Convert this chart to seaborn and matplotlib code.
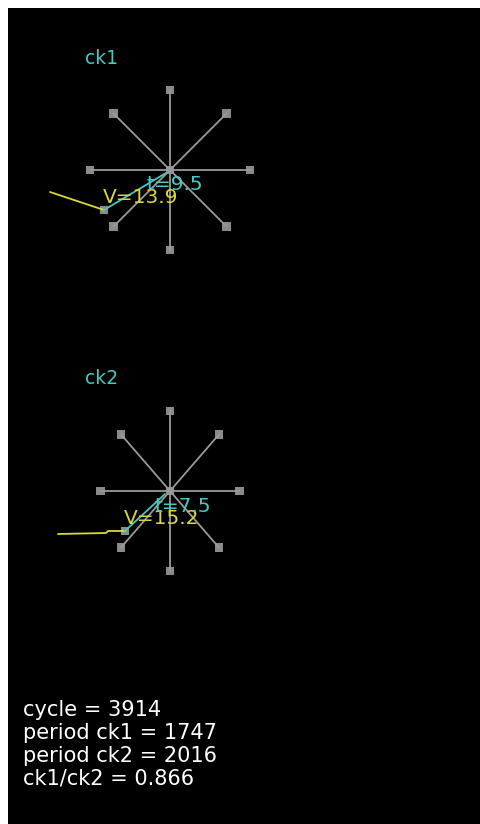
import numpy as np
import pandas as pd
import matplotlib
matplotlib.use('Agg')
import matplotlib.pyplot as plt
import seaborn as sns

# clocks: name, centre (pixel coords), horizontal scale of the star
clock_names = ['ck1', 'ck2']
centre_x = [170, 170]
centre_y = [170, 491]
x_scale = [1.0, 0.866]
spoke_radius = 80
spoke_angles = [0, 45, 90, 135, 180, 225, 270, 315]

# yellow trail of each clock
trail_x = [[50, 104], [58, 106, 108, 125]]
trail_y = [[192, 210], [534, 533, 531, 531]]
# cyan hand from trail end towards centre
hand_x = [[104, 166], [125, 165]]
hand_y = [[210, 173], [531, 494]]

speed_labels = ['V=13.9', 'V=15.2']
phase_labels = ['t=9.5', 't=7.5']

info_lines = ['cycle = 3914', 'period ck1 = 1747', 'period ck2 = 2016', 'ck1/ck2 = 0.866']

grey = '#9a9a9a'
marker_grey = '#8a8a8a'
yellow = '#d8d83c'
cyan = '#48c8c0'

sns.set_style('dark')
plt.rcParams['font.family'] = ['DejaVu Sans']

fig = plt.figure(figsize=(4.81, 8.24), dpi=100)
fig.patch.set_facecolor('white')
ax = fig.add_axes([8 / 481, 0, 473 / 481, 816 / 824])
ax.set_facecolor('black')
ax.set_xlim(8, 481)
ax.set_ylim(824, 8)
ax.set_xticks([])
ax.set_yticks([])
for s in ax.spines.values():
    s.set_visible(False)

# spokes of each star
rows = []
ends = []
for i, name in enumerate(clock_names):
    for a in spoke_angles:
        ex = centre_x[i] + spoke_radius * x_scale[i] * np.cos(np.radians(a))
        ey = centre_y[i] - spoke_radius * np.sin(np.radians(a))
        seg = name + '_' + str(a)
        rows.append({'seg': seg, 'x': centre_x[i], 'y': centre_y[i]})
        rows.append({'seg': seg, 'x': ex, 'y': ey})
        ends.append({'x': ex, 'y': ey})
spokes = pd.DataFrame(rows)
sns.lineplot(data=spokes, x='x', y='y', units='seg', estimator=None, sort=False,
             color=grey, linewidth=1.3, ax=ax, legend=False)
sns.scatterplot(data=pd.DataFrame(ends), x='x', y='y', marker='s', s=40,
                color=marker_grey, edgecolor='none', ax=ax, legend=False)
sns.scatterplot(x=centre_x, y=centre_y, marker='s', s=40,
                color=marker_grey, edgecolor='none', ax=ax, legend=False)

for i, name in enumerate(clock_names):
    sns.lineplot(x=trail_x[i], y=trail_y[i], sort=False, estimator=None,
                 color=yellow, linewidth=1.3, ax=ax)
    sns.lineplot(x=hand_x[i], y=hand_y[i], sort=False, estimator=None,
                 color=cyan, linewidth=1.3, ax=ax)
    sns.scatterplot(x=[trail_x[i][-1]], y=[trail_y[i][-1]], marker='s', s=40,
                    color=marker_grey, edgecolor='none', ax=ax, legend=False)

    ax.text(85, centre_y[i] - 112, name, color=cyan, fontsize=13.5,
            ha='left', va='center')
    ax.text(hand_x[i][0] - 1, hand_y[i][0] - 7, speed_labels[i], color=yellow,
            fontsize=14.5, ha='left', va='baseline')
    ax.text(centre_x[i] - 23 + 8 * i, centre_y[i] + 20 + i * 1, phase_labels[i],
            color=cyan, fontsize=14.5, ha='left', va='baseline')

for k, line in enumerate(info_lines):
    ax.text(23, 716 + 23 * k, line, color='white', fontsize=15,
            ha='left', va='baseline')

ax.set_xlabel('')
ax.set_ylabel('')
fig.savefig('out.png', dpi=100, facecolor=fig.get_facecolor())
